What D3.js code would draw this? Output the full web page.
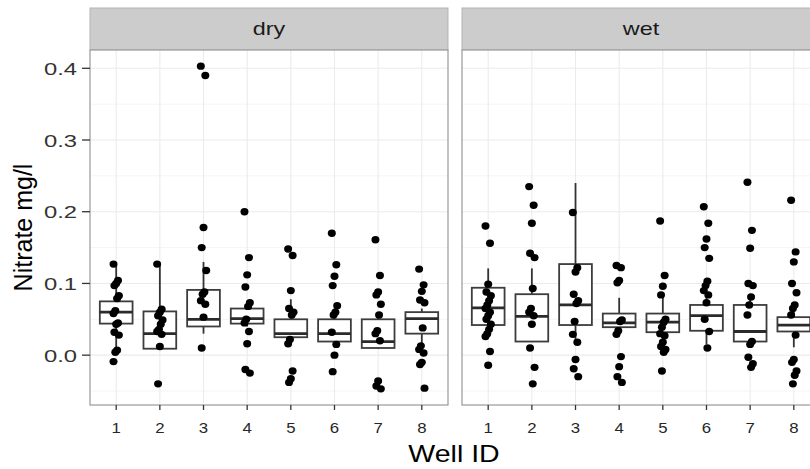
<!DOCTYPE html>
<html>
<head>
<meta charset="utf-8">
<script src="https://cdn.jsdelivr.net/npm/d3@7"></script>
<style>
  body { margin: 0; background: #fff; }
  svg { display: block; }
  text { font-family: "Liberation Sans", Arial, sans-serif; }
</style>
</head>
<body>
<svg id="chart" width="810" height="469"></svg>
<script>
// facets and wells
const seasons = ['dry', 'wet'];
const wells = ['1', '2', '3', '4', '5', '6', '7', '8'];
const yTicks = [0.0, 0.1, 0.2, 0.3, 0.4];
const yMinorTicks = [-0.05, 0.05, 0.15, 0.25, 0.35];

// jittered nitrate readings (mg/l), one list per well
const dryPoints = [
  [0.127, 0.104, 0.100, 0.097, 0.083, 0.079, 0.062, 0.058, 0.045, 0.043, 0.032, 0.028, 0.007, 0.004, -0.009],
  [0.127, 0.064, 0.060, 0.055, 0.049, 0.043, 0.036, 0.033, 0.029, 0.012, -0.040],
  [0.403, 0.390, 0.178, 0.150, 0.118, 0.088, 0.085, 0.076, 0.071, 0.053, 0.010],
  [0.200, 0.136, 0.112, 0.095, 0.073, 0.068, 0.050, 0.045, 0.033, 0.016, -0.020, -0.025],
  [0.148, 0.139, 0.090, 0.065, 0.060, 0.056, 0.022, 0.016, -0.022, -0.033, -0.038],
  [0.170, 0.126, 0.110, 0.097, 0.069, 0.060, 0.056, 0.032, 0.015, 0.000, -0.023],
  [0.161, 0.111, 0.088, 0.084, 0.071, 0.056, 0.034, 0.030, 0.020, -0.036, -0.043, -0.047],
  [0.120, 0.098, 0.089, 0.077, 0.073, 0.038, 0.013, 0.008, 0.003, -0.010, -0.013, -0.046]
];
const wetPoints = [
  [0.180, 0.156, 0.099, 0.088, 0.083, 0.076, 0.070, 0.065, 0.060, 0.055, 0.050, 0.043, 0.036, 0.030, 0.026, 0.005, -0.014],
  [0.235, 0.209, 0.184, 0.142, 0.136, 0.093, 0.065, 0.060, 0.055, 0.043, 0.010, -0.017, -0.040],
  [0.199, 0.122, 0.116, 0.085, 0.076, 0.072, 0.047, 0.029, 0.018, -0.006, -0.019, -0.030],
  [0.125, 0.122, 0.104, 0.101, 0.049, 0.047, 0.034, 0.029, -0.002, -0.016, -0.030, -0.038],
  [0.187, 0.111, 0.096, 0.084, 0.050, 0.046, 0.039, 0.030, 0.027, 0.018, 0.012, 0.008, 0.004, -0.022],
  [0.207, 0.184, 0.162, 0.150, 0.135, 0.103, 0.097, 0.090, 0.084, 0.073, 0.050, 0.033, 0.010],
  [0.241, 0.174, 0.149, 0.100, 0.097, 0.081, 0.070, 0.056, 0.019, 0.015, -0.003, -0.012, -0.017],
  [0.216, 0.144, 0.130, 0.100, 0.087, 0.070, 0.065, 0.056, 0.028, -0.006, -0.010, -0.022, -0.028, -0.040]
];

// boxplot stats per well
const dryLow    = [0.005, 0.009, 0.030, 0.040, 0.022, 0.012, 0.009, 0.015];
const dryQ1     = [0.044, 0.009, 0.040, 0.044, 0.025, 0.019, 0.010, 0.030];
const dryMedian = [0.060, 0.030, 0.050, 0.051, 0.030, 0.030, 0.019, 0.051];
const dryQ3     = [0.075, 0.061, 0.091, 0.065, 0.050, 0.050, 0.050, 0.060];
const dryHigh   = [0.127, 0.127, 0.130, 0.075, 0.078, 0.065, 0.060, 0.065];

const wetLow    = [0.025, 0.019, 0.020, 0.038, 0.025, 0.015, 0.019, 0.011];
const wetQ1     = [0.042, 0.019, 0.042, 0.039, 0.032, 0.034, 0.019, 0.033];
const wetMedian = [0.066, 0.054, 0.070, 0.045, 0.046, 0.055, 0.033, 0.042];
const wetQ3     = [0.094, 0.085, 0.127, 0.058, 0.058, 0.070, 0.070, 0.053];
const wetHigh   = [0.121, 0.121, 0.240, 0.080, 0.083, 0.085, 0.085, 0.060];

const pointsBySeason = { dry: dryPoints, wet: wetPoints };
const statsBySeason = {
  dry: { low: dryLow, q1: dryQ1, med: dryMedian, q3: dryQ3, high: dryHigh },
  wet: { low: wetLow, q1: wetQ1, med: wetMedian, q3: wetQ3, high: wetHigh }
};

const svg = d3.select('#chart');
const panelX = [90, 462];
const panelW = 358;
const stripTop = 8;
const panelTop = 50;
const panelBottom = 405;

const y = d3.scaleLinear().domain([-0.0695, 0.4255]).range([panelBottom, panelTop]);
const x = d3.scalePoint().domain(wells).range([0, panelW]).padding(0.6);
const boxW = x.step() * 0.75;

// the reference is stretched sideways, so horizontal text gets widened
function stretchText(parent, tx, ty, str, size, anchor, fill, sx) {
  return parent.append('text')
    .attr('transform', 'translate(' + tx + ',' + ty + ') scale(' + sx + ',1)')
    .attr('text-anchor', anchor)
    .attr('font-size', size)
    .attr('fill', fill)
    .text(str);
}

seasons.forEach((season, si) => {
  const g = svg.append('g').attr('transform', 'translate(' + panelX[si] + ',0)');

  // strip
  g.append('rect')
    .attr('x', 0).attr('y', stripTop)
    .attr('width', panelW).attr('height', panelTop - stripTop)
    .attr('fill', '#cccccc')
    .attr('stroke', '#b3b3b3');
  stretchText(g, panelW / 2, 35, season, 18, 'middle', '#1a1a1a', 1.3);

  // panel background
  g.append('rect')
    .attr('x', 0).attr('y', panelTop)
    .attr('width', panelW).attr('height', panelBottom - panelTop)
    .attr('fill', '#fff');

  // grid
  g.selectAll('.minor').data(yMinorTicks).join('line')
    .attr('x1', 0).attr('x2', panelW)
    .attr('y1', d => y(d)).attr('y2', d => y(d))
    .attr('stroke', '#f5f5f5').attr('stroke-width', 1);
  g.selectAll('.majorY').data(yTicks).join('line')
    .attr('x1', 0).attr('x2', panelW)
    .attr('y1', d => y(d)).attr('y2', d => y(d))
    .attr('stroke', '#ebebeb').attr('stroke-width', 1.1);
  g.selectAll('.majorX').data(wells).join('line')
    .attr('x1', d => x(d)).attr('x2', d => x(d))
    .attr('y1', panelTop).attr('y2', panelBottom)
    .attr('stroke', '#ebebeb').attr('stroke-width', 1.1);

  // boxplots
  const st = statsBySeason[season];
  const boxes = g.selectAll('.box').data(wells).join('g');
  boxes.append('line')
    .attr('x1', d => x(d)).attr('x2', d => x(d))
    .attr('y1', (d, i) => y(st.q3[i])).attr('y2', (d, i) => y(st.high[i]))
    .attr('stroke', '#333').attr('stroke-width', 1.8);
  boxes.append('line')
    .attr('x1', d => x(d)).attr('x2', d => x(d))
    .attr('y1', (d, i) => y(st.q1[i])).attr('y2', (d, i) => y(st.low[i]))
    .attr('stroke', '#333').attr('stroke-width', 1.8);
  boxes.append('rect')
    .attr('x', d => x(d) - boxW / 2)
    .attr('y', (d, i) => y(st.q3[i]))
    .attr('width', boxW)
    .attr('height', (d, i) => y(st.q1[i]) - y(st.q3[i]))
    .attr('fill', '#fff')
    .attr('stroke', '#3d3d3d').attr('stroke-width', 1.8);
  boxes.append('line')
    .attr('x1', d => x(d) - boxW / 2).attr('x2', d => x(d) + boxW / 2)
    .attr('y1', (d, i) => y(st.med[i])).attr('y2', (d, i) => y(st.med[i]))
    .attr('stroke', '#2b2b2b').attr('stroke-width', 2.8);

  // jittered points
  const pts = [];
  pointsBySeason[season].forEach((vals, wi) => {
    vals.forEach((v, j) => pts.push({ well: wells[wi], value: v, k: j }));
  });
  g.selectAll('.pt').data(pts).join('ellipse')
    .attr('cx', d => x(d.well) + ((d.k * 5) % 7 - 3) * 0.9)
    .attr('cy', d => y(d.value))
    .attr('rx', 4.0).attr('ry', 3.7)
    .attr('fill', '#000');

  // border
  g.append('rect')
    .attr('x', 0).attr('y', panelTop)
    .attr('width', panelW).attr('height', panelBottom - panelTop)
    .attr('fill', 'none')
    .attr('stroke', '#999').attr('stroke-width', 1.2);

  // x axis ticks and labels
  g.selectAll('.xtick').data(wells).join('line')
    .attr('x1', d => x(d)).attr('x2', d => x(d))
    .attr('y1', panelBottom).attr('y2', panelBottom + 5)
    .attr('stroke', '#333').attr('stroke-width', 1.3);
  wells.forEach(w => stretchText(g, x(w), 433, w, 14, 'middle', '#262626', 1.2));
});

// y axis
const yAxis = svg.append('g').attr('transform', 'translate(' + panelX[0] + ',0)');
yAxis.selectAll('line').data(yTicks).join('line')
  .attr('x1', -8).attr('x2', 0)
  .attr('y1', d => y(d)).attr('y2', d => y(d))
  .attr('stroke', '#333').attr('stroke-width', 1.3);
yTicks.forEach(t => stretchText(yAxis, -13, y(t) + 6.5, d3.format('.1f')(t), 17, 'end', '#333', 1.4));

// axis titles
stretchText(svg, 454, 461.5, 'Well ID', 23, 'middle', '#000', 1.24);
svg.append('text')
  .attr('transform', 'translate(31.5,227.5) rotate(-90)')
  .attr('text-anchor', 'middle')
  .attr('font-size', 25)
  .attr('fill', '#000')
  .text('Nitrate mg/l');
</script>
</body>
</html>
